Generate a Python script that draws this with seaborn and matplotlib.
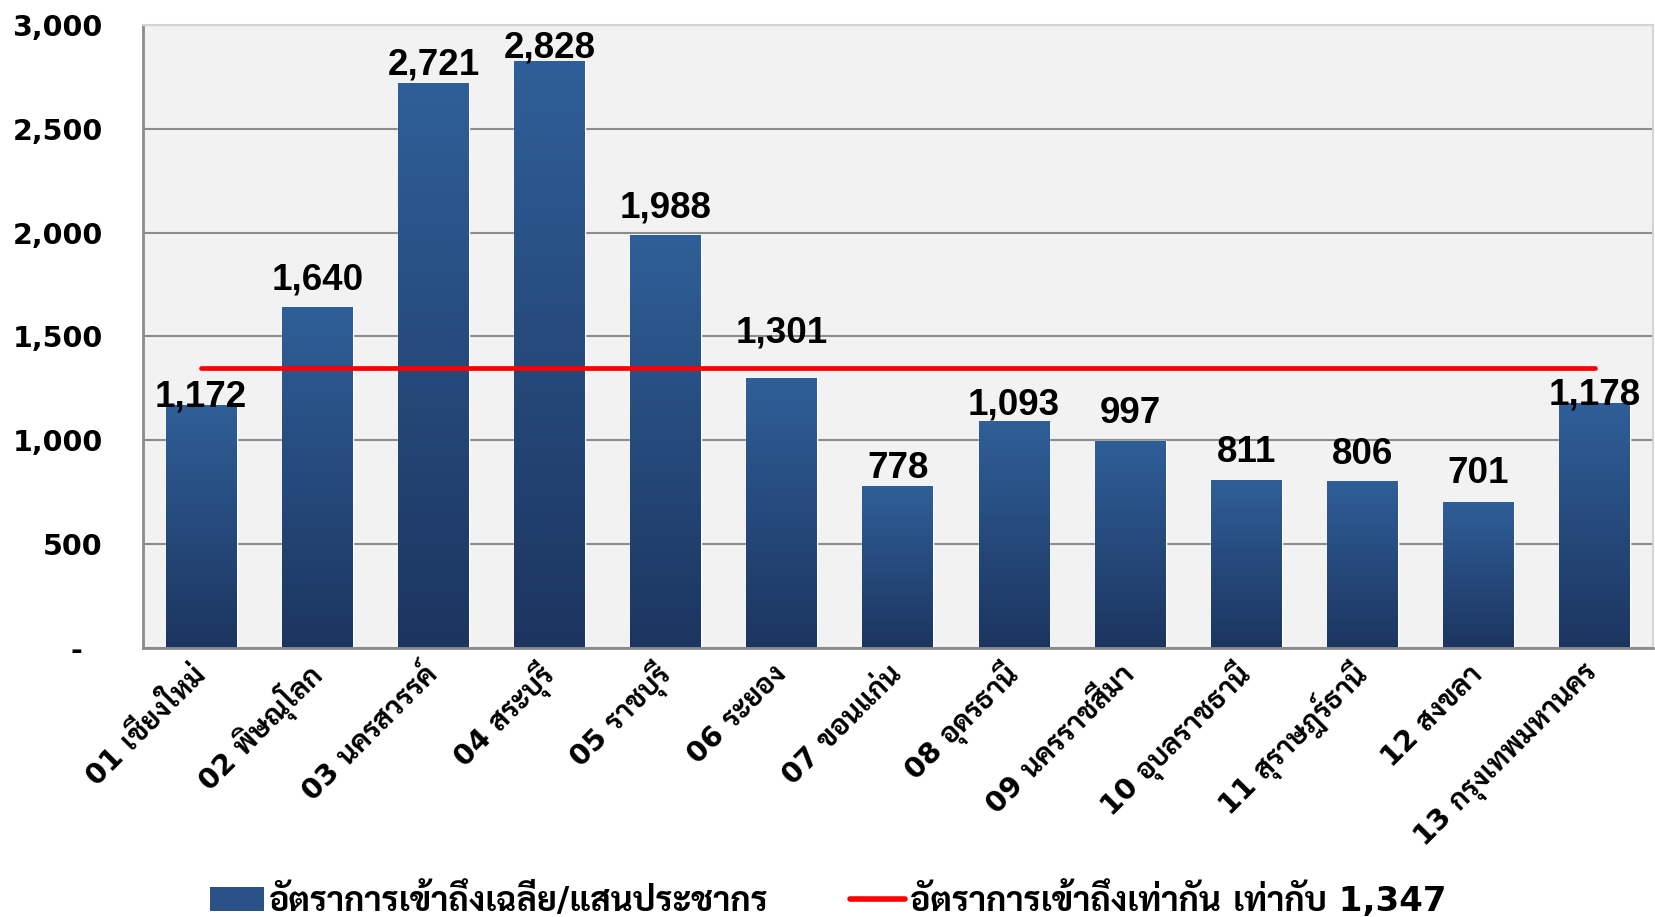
import numpy as np
import pandas as pd
import seaborn as sns
import matplotlib.pyplot as plt
from matplotlib import font_manager
from matplotlib.ft2font import FT2Font
from matplotlib.lines import Line2D
from matplotlib.patches import Patch
from matplotlib.colors import LinearSegmentedColormap

# data
regions = ['01 เชียงใหม่', '02 พิษณุโลก', '03 นครสวรรค์', '04 สระบุรี', '05 ราชบุรี',
           '06 ระยอง', '07 ขอนแก่น', '08 อุดรธานี', '09 นครราชสีมา', '10 อุบลราชธานี',
           '11 สุราษฎร์ธานี', '12 สงขลา', '13 กรุงเทพมหานคร']
rates = [1172, 1640, 2721, 2828, 1988, 1301, 778, 1093, 997, 811, 806, 701, 1178]
target = 1347
yticks = [0, 500, 1000, 1500, 2000, 2500, 3000]
ytick_labels = ['-  ', '500', '1,000', '1,500', '2,000', '2,500', '3,000']
bar_name = 'อัตราการเข้าถึงเฉลี่ย/แสนประชากร'
line_name = 'อัตราการเข้าถึงเท่ากัน เท่ากับ 1,347'

# label nudges (px above bar top) as placed in the original
label_nudge = [-2, 18, 8, 3, 18, 35, 8, 7, 18, 18, 17, 19, -1]

# find something that can draw Thai, preferably a looped sans with a bold face
thai = {}
for f in font_manager.fontManager.ttflist:
    try:
        if 0x0E01 in FT2Font(f.fname).get_charmap():
            w = f.weight if isinstance(f.weight, int) else (700 if 'bold' in str(f.weight) else 400)
            thai.setdefault(f.name, set()).add(w)
    except Exception:
        pass
wanted = ['Sarabun', 'Noto Sans Thai', 'IBM Plex Sans Thai', 'Noto Sans Thai Looped']
pick = [n for n in wanted if n in thai]
if not pick:
    pick = sorted(n for n, ws in thai.items() if max(ws) >= 600) or sorted(thai)
families = ['DejaVu Sans'] + pick[:1]

sns.set_style('white')
plt.rcParams['font.family'] = families
plt.rcParams['text.color'] = 'black'
plt.rcParams['xtick.color'] = 'black'
plt.rcParams['ytick.color'] = 'black'

df = pd.DataFrame({'region': regions, 'rate': rates})

fig = plt.figure(figsize=(16.56, 9.17), dpi=100)
ax = fig.add_axes([0.0864, 0.2934, 0.9116, 0.6793])
ax.set_facecolor('#F2F2F2')

sns.barplot(data=df, x='region', y='rate', color='#2A5288', width=0.61,
            saturation=1, ax=ax, zorder=2)

# vertical gradient on each bar
grad = np.linspace(1, 0, 256).reshape(-1, 1)
cmap = LinearSegmentedColormap.from_list('bar', ['#1C3560', '#2F5F98'])
for p in ax.patches:
    x0, y0 = p.get_x(), p.get_y()
    w, h = p.get_width(), p.get_height()
    im = ax.imshow(grad, cmap=cmap, aspect='auto', extent=[x0, x0 + w, y0, y0 + h],
                   zorder=2.5, vmin=0, vmax=1)
    im.set_clip_path(p)

# red reference line across first to last category centre
sns.lineplot(x=[0, len(regions) - 1], y=[target, target], color='#FF0000',
             linewidth=3.4, ax=ax, zorder=4, solid_capstyle='round')

for i, v in enumerate(rates):
    ax.annotate(f'{v:,}', (i, v), xytext=(0, label_nudge[i] * 0.72),
                textcoords='offset points', ha='center', va='baseline',
                fontsize=26.5, fontweight='bold', family='Liberation Sans', zorder=5)

ax.set_xlim(-0.5, len(regions) - 0.5)
ax.set_ylim(0, 3000)
ax.set_yticks(yticks)
ax.set_yticklabels(ytick_labels, fontsize=20.5, fontweight='bold')
ax.yaxis.grid(True, color='#8C8C8C', linewidth=1.5, zorder=1)
ax.set_axisbelow(True)
ax.tick_params(axis='y', length=0, pad=29)
ax.tick_params(axis='x', length=0, pad=16)
ax.set_xticks(range(len(regions)))
ax.set_xticklabels(regions, rotation=45, ha='right', va='center',
                   rotation_mode='anchor', fontsize=20.5, fontweight='bold')
ax.set_xlabel('')
ax.set_ylabel('')

for side in ['left', 'bottom']:
    ax.spines[side].set_color('#8C8C8C')
    ax.spines[side].set_linewidth(2)
for side in ['top', 'right']:
    ax.spines[side].set_color('#D4D4D4')
    ax.spines[side].set_linewidth(1.5)

handles = [Patch(facecolor='#2A5288', edgecolor='none'),
           Line2D([0], [0], color='#FF0000', linewidth=4)]
fig.legend(handles, [bar_name, line_name], loc='center', bbox_to_anchor=(0.5, 0.02),
           ncol=2, frameon=False, prop={'size': 24.5, 'weight': 'bold'},
           handlelength=1.6, handletextpad=0.15, columnspacing=2.4)

fig.savefig('out.png', dpi=100)
